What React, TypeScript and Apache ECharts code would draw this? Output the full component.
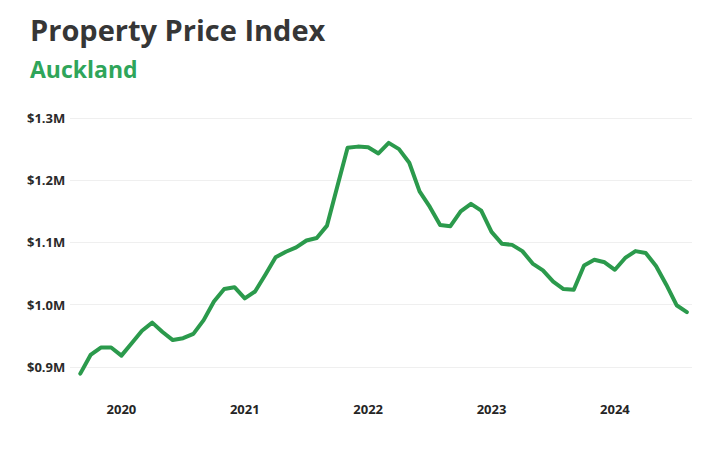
import React, { useEffect, useRef } from "react";
import * as echarts from "echarts";

// Monthly, Sep 2019 .. Aug 2024
const months: string[] = [
  "2019-09", "2019-10", "2019-11", "2019-12",
  "2020-01", "2020-02", "2020-03", "2020-04", "2020-05", "2020-06", "2020-07", "2020-08", "2020-09", "2020-10", "2020-11", "2020-12",
  "2021-01", "2021-02", "2021-03", "2021-04", "2021-05", "2021-06", "2021-07", "2021-08", "2021-09", "2021-10", "2021-11", "2021-12",
  "2022-01", "2022-02", "2022-03", "2022-04", "2022-05", "2022-06", "2022-07", "2022-08", "2022-09", "2022-10", "2022-11", "2022-12",
  "2023-01", "2023-02", "2023-03", "2023-04", "2023-05", "2023-06", "2023-07", "2023-08", "2023-09", "2023-10", "2023-11", "2023-12",
  "2024-01", "2024-02", "2024-03", "2024-04", "2024-05", "2024-06", "2024-07", "2024-08",
];

// Price index in $ millions
const prices: number[] = [
  0.889, 0.919, 0.931, 0.931,
  0.918, 0.938, 0.958, 0.971, 0.956, 0.943, 0.946, 0.953, 0.975, 1.005, 1.025, 1.028,
  1.010, 1.021, 1.048, 1.076, 1.085, 1.092, 1.103, 1.107, 1.127, 1.190, 1.252, 1.254,
  1.253, 1.243, 1.260, 1.250, 1.228, 1.182, 1.157, 1.128, 1.126, 1.150, 1.162, 1.151,
  1.117, 1.098, 1.096, 1.086, 1.066, 1.055, 1.037, 1.025, 1.024, 1.063, 1.072, 1.068,
  1.056, 1.075, 1.086, 1.083, 1.062, 1.032, 0.999, 0.988,
];

const yearLabels: string[] = ["2020", "2021", "2022", "2023", "2024"];
const yTicks: number[] = [0.9, 1.0, 1.1, 1.2, 1.3];

const TITLE = "Property Price Index";
const SUBTITLE = "Auckland";

export default function App() {
  const ref = useRef<HTMLDivElement>(null);

  useEffect(() => {
    if (!ref.current) return;
    const chart = echarts.init(ref.current, undefined, { renderer: "svg" });

    const yearIndex = yearLabels.map((y) => months.indexOf(y + "-01"));
    const data = prices.map((v, i) => [i, v]);

    chart.setOption({
      animation: false,
      backgroundColor: "#ffffff",
      textStyle: { fontFamily: "Open Sans" },
      graphic: [
        {
          type: "text",
          left: 30,
          top: 15,
          style: {
            text: TITLE,
            fill: "#363636",
            font: "bold 29px 'Open Sans'",
          },
        },
        {
          type: "text",
          left: 30,
          top: 57,
          style: {
            text: SUBTITLE,
            fill: "#2fa55a",
            font: "bold 23px 'Open Sans'",
          },
        },
      ],
      grid: { left: 70, right: 28, top: 118, bottom: 21, containLabel: false },
      xAxis: {
        type: "value",
        min: -1,
        max: months.length - 0.5,
        offset: -34,
        axisLine: { show: false },
        axisTick: { show: false },
        splitLine: { show: false },
        axisLabel: {
          customValues: yearIndex,
          margin: 7,
          fontSize: 13,
          fontWeight: "bold",
          color: "#252525",
          fontFamily: "Open Sans",
          formatter: (v: number) => {
            const k = yearIndex.indexOf(Math.round(v));
            return k >= 0 ? yearLabels[k] : "";
          },
        },
      },
      yAxis: {
        type: "value",
        min: 0.8,
        max: 1.3,
        interval: 0.1,
        axisLine: { show: false },
        axisTick: { show: false },
        splitLine: {
          show: true,
          showMinLine: false,
          lineStyle: { color: "#efefef", width: 1 },
        },
        axisLabel: {
          showMinLabel: false,
          align: "left",
          margin: 43,
          fontSize: 13,
          fontWeight: "bold",
          color: "#2a2a2a",
          fontFamily: "Open Sans",
          formatter: (v: number) => {
            const hit = yTicks.find((t) => Math.abs(t - v) < 1e-6);
            return hit !== undefined ? "$" + hit.toFixed(1) + "M" : "";
          },
        },
      },
      series: [
        {
          type: "line",
          data,
          showSymbol: false,
          symbol: "none",
          lineStyle: { color: "#2b9a4c", width: 4, cap: "round", join: "round" },
          itemStyle: { color: "#2b9a4c" },
        },
      ],
    });

    return () => chart.dispose();
  }, []);

  return (
    <div
      ref={ref}
      style={{ width: 720, height: 450, position: "absolute", left: 0, top: 0 }}
    />
  );
}
